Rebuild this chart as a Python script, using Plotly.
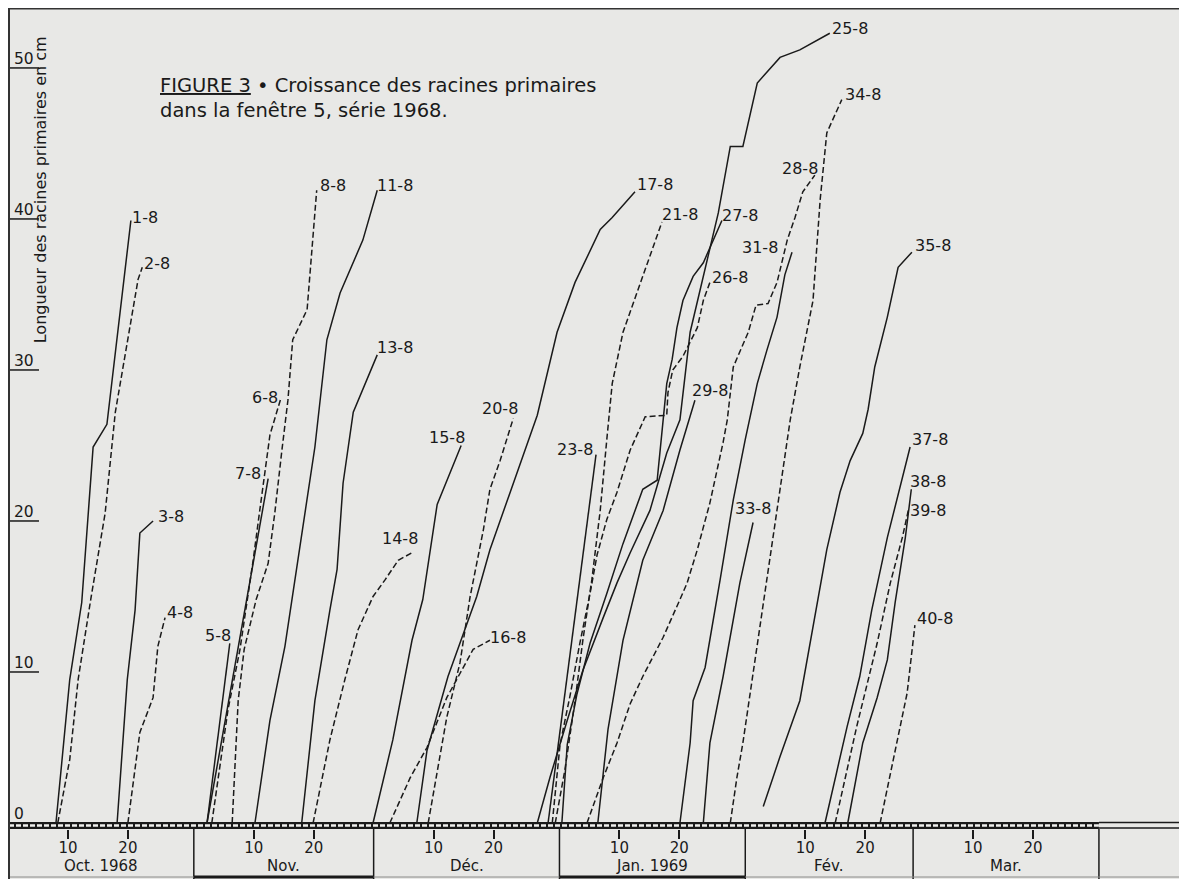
from datetime import datetime, timedelta
import plotly.graph_objects as go

# ---------------------------------------------------------------
# Données : jour = nombre de jours depuis le 1er octobre 1968,
#           cm   = longueur de la racine primaire (cm)
# ---------------------------------------------------------------
j_1_8 = [7.0, 9.3, 11.3, 13.2, 15.5, 19.5]
cm_1_8 = [0, 9.5, 14.6, 24.9, 26.4, 39.9]
j_2_8 = [7.3, 9.3, 10.7, 12.8, 15.2, 16.9, 20.7, 21.4]
cm_2_8 = [0, 4.2, 9.5, 14.8, 20.5, 27.2, 36.0, 36.8]
j_3_8 = [17.2, 18.9, 20.2, 21.0, 23.2]
cm_3_8 = [0, 9.5, 14.1, 19.2, 20.0]
j_4_8 = [19.0, 21.0, 23.2, 24.0, 25.2]
cm_4_8 = [0, 6.0, 8.3, 11.7, 13.6]
j_5_8 = [32.2, 36.0]
cm_5_8 = [0, 11.9]
j_6_8 = [33.0, 35.7, 37.7, 39.0, 39.9, 41.0, 41.9, 42.7, 44.5]
cm_6_8 = [0, 7.5, 11.5, 14.8, 17.4, 20.7, 23.4, 25.7, 28.1]
j_7_8 = [32.2, 37.4, 42.4]
cm_7_8 = [0, 11.5, 22.8]
j_8_8 = [36.4, 37.4, 38.4, 40.4, 42.4, 43.5, 44.7, 45.7, 46.5, 48.9, 50.5]
cm_8_8 = [0, 8.1, 11.5, 14.8, 17.2, 20.5, 24.7, 28.0, 32.0, 34.0, 41.9]
j_11_8 = [40.2, 42.7, 45.2, 47.7, 50.2, 52.2, 54.4, 58.2, 60.6]
cm_11_8 = [0, 6.8, 11.7, 18.3, 24.9, 32.0, 35.1, 38.6, 41.9]
j_13_8 = [48.0, 50.2, 52.7, 53.9, 54.9, 56.6, 60.6]
cm_13_8 = [0, 8.1, 14.1, 16.8, 22.5, 27.2, 31.0]
j_14_8 = [49.9, 52.7, 55.2, 57.4, 59.9, 61.9, 64.1, 66.4]
cm_14_8 = [0, 5.5, 9.5, 12.8, 15.0, 16.1, 17.4, 17.9]
j_15_8 = [59.9, 63.2, 66.4, 68.2, 70.6, 74.6]
cm_15_8 = [0, 5.5, 12.1, 14.8, 21.1, 25.0]
j_16_8 = [62.7, 66.1, 68.9, 72.2, 74.4, 76.6, 79.4]
cm_16_8 = [0, 3.0, 5.0, 8.3, 9.9, 11.5, 12.1]
j_17_8 = [67.2, 68.9, 72.4, 77.2, 79.4, 87.3, 90.6, 93.6, 97.8, 99.8, 103.6]
cm_17_8 = [0, 4.8, 9.7, 15.0, 18.1, 27.0, 32.5, 35.8, 39.3, 40.1, 41.8]
j_20_8 = [69.1, 72.2, 74.4, 76.1, 78.3, 79.4, 81.1, 83.3]
cm_20_8 = [0, 7.0, 10.6, 15.0, 19.4, 22.1, 24.0, 26.8]
j_21_8 = [90.3, 91.9, 93.6, 94.9, 96.4, 97.8, 98.9, 99.8, 101.6, 104.9, 108.1]
cm_21_8 = [0, 3.5, 8.1, 12.1, 16.1, 20.7, 25.4, 29.1, 32.5, 36.2, 39.8]
j_23_8 = [89.1, 97.1]
cm_23_8 = [0, 24.4]
j_25_8 = [87.3, 89.4, 92.3, 94.9, 98.3, 100.6, 102.8, 106.1, 108.9, 111.1,
          112.8, 115.3, 117.5, 119.5, 121.6, 124.0, 126.1, 127.8, 131.1, 136.1]
cm_25_8 = [0, 3.0, 6.8, 10.1, 13.6, 15.9, 17.9, 20.7, 24.5, 26.7,
           32.5, 36.8, 40.4, 44.8, 44.8, 49.0, 49.9, 50.7, 51.2, 52.3]
j_26_8 = [89.8, 91.1, 92.8, 94.4, 96.1, 97.3, 98.9, 100.6, 102.8, 105.3,
          108.9, 109.1, 109.9, 111.6, 114.0, 115.0, 116.1]
cm_26_8 = [0, 5.2, 8.5, 11.9, 15.2, 17.8, 20.1, 21.9, 24.7, 26.9,
           27.0, 28.5, 30.0, 30.9, 32.8, 34.6, 35.8]
j_27_8 = [91.4, 92.3, 93.9, 96.1, 98.9, 101.6, 104.9, 107.3, 108.3, 108.9,
          109.8, 110.6, 111.6, 113.3, 115.0, 116.1, 118.1]
cm_27_8 = [0, 5.2, 8.5, 11.9, 15.2, 18.5, 22.1, 22.7, 26.7, 29.1,
           30.7, 32.8, 34.6, 36.2, 37.1, 38.1, 39.9]
j_28_8 = [95.6, 98.3, 100.6, 102.8, 104.9, 108.3, 111.1, 112.3, 114.0, 116.1,
          118.3, 119.0, 120.0, 122.5, 123.8, 125.8, 127.3, 129.0, 130.3, 131.6, 133.6]
cm_28_8 = [0, 3.0, 5.3, 7.9, 9.7, 12.3, 14.8, 15.9, 18.1, 21.2,
           25.2, 26.7, 30.2, 32.5, 34.3, 34.4, 35.8, 38.6, 40.1, 41.8, 42.9]
j_29_8 = [97.4, 99.1, 101.6, 104.9, 108.3, 111.1, 113.6]
cm_29_8 = [0, 6.2, 12.1, 17.4, 20.7, 24.7, 28.0]
j_31_8 = [111.1, 112.8, 113.3, 115.3, 117.8, 120.0, 122.0, 124.0, 125.6, 127.3, 128.6, 129.8]
cm_31_8 = [0, 5.3, 8.1, 10.3, 16.1, 21.4, 25.4, 29.1, 31.3, 33.5, 36.3, 37.8]
j_33_8 = [115.0, 116.1, 118.3, 121.1, 123.3]
cm_33_8 = [0, 5.3, 9.7, 15.9, 19.9]
j_34_8 = [119.5, 120.6, 121.6, 124.0, 125.6, 127.3, 129.5, 131.1, 133.3, 134.5, 135.6, 138.1]
cm_34_8 = [0, 3.0, 5.3, 11.9, 16.3, 20.7, 26.7, 30.2, 34.6, 41.3, 45.7, 47.9]
j_35_8 = [125.0, 127.8, 131.1, 133.3, 135.6, 137.8, 139.5, 141.6, 142.5, 143.6, 145.7, 147.5, 149.8]
cm_35_8 = [1.1, 4.4, 8.1, 13.0, 18.1, 21.9, 24.0, 25.8, 27.4, 30.2, 33.5, 36.8, 37.8]
j_37_8 = [135.3, 137.0, 139.0, 141.1, 143.1, 145.7, 149.5]
cm_37_8 = [0, 3.0, 6.4, 9.7, 14.1, 18.9, 24.9]
j_38_8 = [139.1, 141.6, 144.0, 145.7, 147.0, 148.7, 149.7]
cm_38_8 = [0, 5.3, 8.3, 10.8, 14.6, 18.9, 22.1]
j_39_8 = [137.0, 140.6, 144.0, 146.2, 148.2, 149.2]
cm_39_8 = [0, 6.4, 11.9, 15.9, 18.9, 20.7]
j_40_8 = [144.5, 147.3, 149.0, 150.3]
cm_40_8 = [0, 5.3, 8.6, 13.1]

racines = [
    ("1-8", j_1_8, cm_1_8), ("2-8", j_2_8, cm_2_8), ("3-8", j_3_8, cm_3_8),
    ("4-8", j_4_8, cm_4_8), ("5-8", j_5_8, cm_5_8), ("6-8", j_6_8, cm_6_8),
    ("7-8", j_7_8, cm_7_8), ("8-8", j_8_8, cm_8_8), ("11-8", j_11_8, cm_11_8),
    ("13-8", j_13_8, cm_13_8), ("14-8", j_14_8, cm_14_8), ("15-8", j_15_8, cm_15_8),
    ("16-8", j_16_8, cm_16_8), ("17-8", j_17_8, cm_17_8), ("20-8", j_20_8, cm_20_8),
    ("21-8", j_21_8, cm_21_8), ("23-8", j_23_8, cm_23_8), ("25-8", j_25_8, cm_25_8),
    ("26-8", j_26_8, cm_26_8), ("27-8", j_27_8, cm_27_8), ("28-8", j_28_8, cm_28_8),
    ("29-8", j_29_8, cm_29_8), ("31-8", j_31_8, cm_31_8), ("33-8", j_33_8, cm_33_8),
    ("34-8", j_34_8, cm_34_8), ("35-8", j_35_8, cm_35_8), ("37-8", j_37_8, cm_37_8),
    ("38-8", j_38_8, cm_38_8), ("39-8", j_39_8, cm_39_8), ("40-8", j_40_8, cm_40_8),
]

# axis / calendar
mois_noms = ["Oct. 1968", "Nov.", "Déc.", "Jan. 1969", "Fév.", "Mar."]
mois_fins = ["1968-10-31", "1968-11-30", "1968-12-31", "1969-01-31", "1969-02-28", "1969-03-31"]
x_ticks = ["1968-10-10", "1968-10-20", "1968-11-10", "1968-11-20", "1968-12-10", "1968-12-20",
           "1969-01-10", "1969-01-20", "1969-02-10", "1969-02-20", "1969-03-10", "1969-03-20"]
x_ticktext = ["10", "20"] * 6
y_ticks = [0, 10, 20, 30, 40, 50]

# ---------------------------------------------------------------
# Styles (kept apart from the data)
# ---------------------------------------------------------------
pointilles = {"2-8", "4-8", "6-8", "8-8", "14-8", "16-8", "20-8", "21-8",
              "26-8", "28-8", "34-8", "39-8", "40-8"}
decalage = {  # label offset from the last point (px): (dx, dy up)
    "1-8": (14, 3), "2-8": (15, 4), "3-8": (18, 4), "4-8": (15, 5), "5-8": (-12, 8),
    "6-8": (-16, 1), "7-8": (-20, 5), "8-8": (16, 5), "11-8": (18, 5), "13-8": (18, 7),
    "14-8": (-12, 14), "15-8": (-14, 8), "16-8": (18, 3), "17-8": (20, 7), "20-8": (-13, 10),
    "21-8": (18, 7), "23-8": (-21, 5), "25-8": (20, 5), "26-8": (20, 5), "27-8": (18, 5),
    "28-8": (-15, 7), "29-8": (15, 10), "31-8": (-32, 5), "33-8": (0, 14), "34-8": (21, 5),
    "35-8": (21, 7), "37-8": (20, 7), "38-8": (17, 8), "39-8": (20, 0), "40-8": (20, 7),
}
INK = "#1a1a1a"
BG = "#e8e8e6"
FONT = "DejaVu Sans"

BASE = datetime(1968, 10, 1)


def jour(j):
    return BASE + timedelta(days=j)


X0, X1 = jour(-0.834), jour(195.36)
Y0, Y1 = -0.397, 53.97

fig = go.Figure()
annotations = []
for nom, jj, cc in racines:
    dash = "6px,3px" if nom in pointilles else "solid"
    fig.add_trace(go.Scatter(
        x=[jour(v) for v in jj], y=cc, mode="lines", name=nom,
        line=dict(color=INK, width=1.5, dash=dash), hoverinfo="name+y"))
    dx, dy = decalage[nom]
    annotations.append(dict(
        x=jour(jj[-1]), y=cc[-1], xref="x", yref="y", text=nom, showarrow=False,
        xshift=dx, yshift=dy, xanchor="center", yanchor="middle",
        font=dict(family=FONT, size=16, color=INK)))

# title (two lines in one block)
annotations.append(dict(
    x=0.1267, y=0.8904, xref="paper", yref="paper", xanchor="left", yanchor="middle", align="left",
    text="<u>FIGURE 3</u> • Croissance des racines primaires<br>dans la fenêtre 5, série 1968.",
    showarrow=False, font=dict(family=FONT, size=19.5, color=INK)))
# y title
annotations.append(dict(
    x=0, y=0.778, xref="paper", yref="paper", xshift=31, xanchor="center", yanchor="middle",
    text="Longueur des racines primaires en cm", textangle=-90, showarrow=False,
    font=dict(family=FONT, size=16, color=INK)))

# month boxes
bords = [X0] + [datetime.fromisoformat(d) for d in mois_fins]
Y_BOT = -0.0609   # paper y of the bottom of the image
for i, nom in enumerate(mois_noms):
    centre = bords[i] + (bords[i + 1] - bords[i]) / 2
    annotations.append(dict(
        x=centre, y=-0.0455, xref="x", yref="paper", text=nom, showarrow=False,
        xanchor="center", yanchor="middle", font=dict(family=FONT, size=15, color=INK)))

shapes = []
# bottom band (dashed "rail")
shapes.append(dict(type="line", xref="x", yref="y", x0=X0, x1=mois_fins[-1], y0=-0.166, y1=-0.166,
                   line=dict(color=INK, width=7)))
shapes.append(dict(type="line", xref="x", yref="y", x0=X0, x1=mois_fins[-1], y0=-0.166, y1=-0.166,
                   line=dict(color="#efefed", width=2.5, dash="5px,2px")))
for yy in (0.033, -0.33):
    shapes.append(dict(type="line", xref="x", yref="y", x0=mois_fins[-1], x1=X1, y0=yy, y1=yy,
                       line=dict(color=INK, width=1.5)))
# month dividers
for d in mois_fins:
    shapes.append(dict(type="line", xref="x", yref="paper", x0=d, x1=d, y0=0, y1=Y_BOT,
                       line=dict(color=INK, width=1.5)))
# bottom edges of the boxes
shapes.append(dict(type="line", xref="paper", yref="paper", x0=0, x1=1.002, y0=-0.0585, y1=-0.0585,
                   line=dict(color="#8a8a88", width=1)))
for a, b in ((0, 1), (2, 3)):
    shapes.append(dict(type="line", xref="x", yref="paper", x0=mois_fins[a], x1=mois_fins[b],
                       y0=-0.0585, y1=-0.0585, line=dict(color=INK, width=3)))
# y tick underlines
for t in y_ticks[1:]:
    shapes.append(dict(type="line", xref="paper", yref="y", x0=0, x1=0.0255, y0=t, y1=t,
                       line=dict(color=INK, width=1.5)))
# frame
shapes.append(dict(type="line", xref="paper", yref="paper", x0=0, x1=1.002, y0=1, y1=1,
                   line=dict(color="#333333", width=3)))
shapes.append(dict(type="line", xref="paper", yref="paper", x0=0, x1=0, y0=1, y1=Y_BOT,
                   line=dict(color="#333333", width=2)))
shapes.append(dict(type="line", xref="paper", yref="paper", x0=0.9983, x1=0.9983, y0=1, y1=0.0085,
                   line=dict(color="#333333", width=2)))

# The page adds an 8px body margin: the figure is sized so that it fills the 1187x879 window.
fig.update_layout(
    width=1179, height=871, autosize=False,
    margin=dict(l=1, r=2, t=0, b=50),
    paper_bgcolor=BG, plot_bgcolor=BG,
    showlegend=False,
    font=dict(family=FONT, color=INK),
    annotations=annotations, shapes=shapes,
    xaxis=dict(type="date", range=[X0, X1], tickmode="array", tickvals=x_ticks, ticktext=x_ticktext,
               ticks="outside", ticklen=9, tickwidth=1.5, tickcolor=INK, ticklabelstandoff=-4,
               showgrid=False, zeroline=False, showline=False,
               tickfont=dict(family=FONT, size=15, color=INK)),
    yaxis=dict(range=[Y0, Y1], tickmode="array", tickvals=y_ticks, ticktext=[str(t) for t in y_ticks],
               ticks="", ticklabelposition="inside", ticklabelshift=-9, ticklabelstandoff=2,
               showgrid=False, zeroline=False, showline=False,
               tickfont=dict(family=FONT, size=15.5, color=INK)),
)

fig.write_html("out.html")
